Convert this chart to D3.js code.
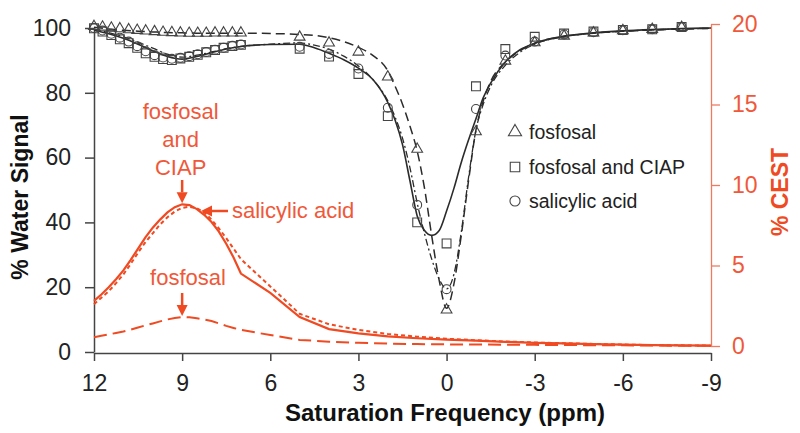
<!DOCTYPE html>
<html>
<head>
<meta charset="utf-8">
<script src="https://cdnjs.cloudflare.com/ajax/libs/d3/7.8.5/d3.min.js"></script>
<style>
  body { margin: 0; background: #fff; }
  text { font-family: "Liberation Sans", Arial, sans-serif; }
</style>
</head>
<body>
<div class="chart_box"></div>
<script>
// ---- data ----
// measured points: x in ppm
const lowPpm = [12, 11.71, 11.41, 11.12, 10.82, 10.53, 10.24, 9.94, 9.65, 9.35, 9.06, 8.76, 8.47, 8.18, 7.88, 7.59, 7.29, 7.0];
const highPpm = [5, 4, 3, 2, 1, 0, -1, -2, -3, -4, -5, -6, -7, -8];
const pointPpm = lowPpm.concat(highPpm);

const fosfosalPts = [100.5, 100.3, 100, 99.8, 99.5, 99.3, 99.1, 98.9, 98.7, 98.6, 98.5, 98.4, 98.4, 98.4, 98.5, 98.5, 98.5, 98.5,
  97.2, 95.4, 92.6, 84.9, 62.6, 13, 68, 89.8, 95.5, 97.5, 98.5, 99.2, 99.6, 100.2];
const ciapPts = [99.9, 98.9, 97.8, 96.5, 95.3, 93.9, 92.2, 91.1, 90.4, 90.1, 90.6, 91.1, 91.7, 92.5, 93.2, 93.9, 94.4, 94.8,
  93.6, 91.2, 85.8, 72.8, 40, 33.5, 82, 93.5, 97.3, 98.3, 98.9, 99.4, 99.6, 100.3];
const salicylicPts = [100, 99.2, 98.2, 97, 95.8, 94.4, 92.8, 91.6, 90.9, 90.5, 90.8, 91.3, 91.9, 92.6, 93.3, 93.9, 94.5, 94.9,
  94.2, 92, 87.5, 75.4, 45.4, 19.4, 75, 91.5, 95.8, 98, 98.7, 99.3, 99.6, 100.3];

// fitted Z-spectra
const fitPpm = [12, 11.5, 11, 10.5, 10, 9.5, 9, 8.5, 8, 7.5, 7, 6, 5, 4.5, 4, 3.5, 3, 2.5, 2, 1.75, 1.5, 1.25, 1, 0.75, 0.5, 0.25, 0,
  -0.25, -0.5, -0.75, -1, -1.25, -1.5, -2, -2.5, -3, -4, -5, -6, -7, -8, -9];
const fosfosalFit = [100.2, 99.7, 99.3, 99, 98.8, 98.6, 98.5, 98.4, 98.4, 98.4, 98.4, 98.3, 98.0, 97.7, 97.0, 95.8, 94.0, 91.5, 86.8, 82, 76.5, 69.8, 62, 50.5, 35.5, 22, 13.5,
  21, 36, 53, 68.5, 77.5, 83.5, 89.5, 93, 95.3, 97.4, 98.4, 99, 99.4, 99.7, 99.9];
const ciapFit = [99.3, 98.2, 96.8, 95.0, 93.0, 91.2, 90.4, 91.2, 92.4, 93.5, 94.3, 94.9, 95.0, 93.9, 92.2, 90.2, 87.6, 84, 77, 71.5, 64, 53, 42, 37.5, 36, 37.5, 43.5,
  50.5, 58.5, 65.5, 72, 78.5, 83, 89.5, 93.3, 95.3, 97.5, 98.5, 99.1, 99.5, 99.8, 100];
const salicylicFit = [99.7, 98.6, 97.3, 95.6, 93.8, 91.9, 91.0, 91.6, 92.6, 93.6, 94.3, 95.0, 95.4, 94.7, 93.5, 91.3, 88.3, 84, 77.5, 72.5, 66, 57, 46, 36.5, 28.5, 22.5, 19.5,
  24, 37, 54, 68.5, 76.5, 82, 88.5, 92.5, 95, 97.3, 98.4, 99, 99.4, 99.7, 99.9];

// CEST (right axis)
const cestPpm = [12, 11.75, 11.5, 11.25, 11, 10.75, 10.5, 10.25, 10, 9.75, 9.5, 9.25, 9, 8.75, 8.5, 8.25, 8, 7.75, 7.5, 7.25, 7,
  6, 5, 4, 3, 2, 1, 0, -1, -2, -3, -4, -5, -6, -7, -8, -9];
const cestCiap = [2.8, 3.2, 3.65, 4.15, 4.7, 5.35, 6.05, 6.75, 7.35, 7.85, 8.3, 8.62, 8.8, 8.75, 8.5, 8.15, 7.7, 7.1, 6.35, 5.5, 4.5,
  3.3, 1.8, 1.05, 0.78, 0.6, 0.48, 0.4, 0.33, 0.26, 0.2, 0.16, 0.12, 0.09, 0.06, 0.04, 0.02];
const cestSalicylic = [2.6, 3.0, 3.4, 3.9, 4.45, 5.1, 5.8, 6.45, 7.0, 7.55, 8.0, 8.35, 8.58, 8.65, 8.55, 8.3, 7.85, 7.3, 6.7, 6.05, 5.4,
  3.7, 2.0, 1.35, 1.0, 0.75, 0.58, 0.45, 0.36, 0.28, 0.22, 0.17, 0.13, 0.09, 0.06, 0.04, 0.02];
const cestFosfosal = [0.55, 0.63, 0.72, 0.81, 0.9, 1.02, 1.15, 1.28, 1.4, 1.53, 1.65, 1.74, 1.8, 1.78, 1.72, 1.64, 1.55, 1.4, 1.25, 1.12, 1.0,
  0.68, 0.38, 0.27, 0.2, 0.15, 0.12, 0.1, 0.09, 0.08, 0.07, 0.06, 0.05, 0.04, 0.03, 0.02, 0.02];

const xTicks = [12, 9, 6, 3, 0, -3, -6, -9];
const yLeftTicks = [0, 20, 40, 60, 80, 100];
const yRightTicks = [0, 5, 10, 15, 20];

const red = "#ef4a22";
const redText = "#f0583a";
const ink = "#2b2b2b";

// Set up the SVG canvas
const svg = d3
  .select(".chart_box")
  .append("svg")
  .attr("width", 800)
  .attr("height", 433);

// scales
const x = d3.scaleLinear().domain([12, -9]).range([94, 711]);
const yL = d3.scaleLinear().domain([0, 100]).range([352, 28]);
const yR = d3.scaleLinear().domain([0, 20]).range([346, 24]);

// axes (plain hyphen minus signs like the original)
const fmt = (d) => String(d);

const leftAxis = svg
  .append("g")
  .attr("transform", "translate(94, 0)")
  .call(d3.axisLeft(yL).tickValues(yLeftTicks).tickFormat(fmt).tickSize(9).tickSizeOuter(0).tickPadding(14));
leftAxis.selectAll("path, line").attr("stroke", "#444").attr("stroke-width", 1.5);
leftAxis.selectAll("text").attr("font-size", 23).attr("fill", "#222")
  .style("font-family", "Liberation Sans, Arial, sans-serif");

const bottomAxis = svg
  .append("g")
  .attr("transform", "translate(0, 353)")
  .call(d3.axisBottom(x).tickValues(xTicks).tickFormat(fmt).tickSize(8).tickSizeOuter(0).tickPadding(14));
bottomAxis.selectAll("path, line").attr("stroke", "#444").attr("stroke-width", 1.5);
bottomAxis.selectAll("text").attr("font-size", 23).attr("fill", "#222")
  .style("font-family", "Liberation Sans, Arial, sans-serif");

const rightAxis = svg
  .append("g")
  .attr("transform", "translate(711, 0)")
  .call(d3.axisRight(yR).tickValues(yRightTicks).tickFormat(fmt).tickSize(9).tickSizeOuter(0).tickPadding(12));
rightAxis.selectAll("path, line").attr("stroke", "#f07a60").attr("stroke-width", 1.3);
rightAxis.selectAll("text").attr("font-size", 23).attr("fill", redText)
  .style("font-family", "Liberation Sans, Arial, sans-serif");

// axis titles
svg.append("text")
  .attr("transform", "translate(28, 197) rotate(-90)")
  .attr("text-anchor", "middle")
  .attr("font-size", 23)
  .attr("font-weight", "bold")
  .attr("fill", "#111")
  .text("% Water Signal");

svg.append("text")
  .attr("x", 445)
  .attr("y", 421)
  .attr("text-anchor", "middle")
  .attr("font-size", 24)
  .attr("font-weight", "bold")
  .attr("fill", "#111")
  .text("Saturation Frequency (ppm)");

svg.append("text")
  .attr("transform", "translate(788, 192) rotate(-90)")
  .attr("text-anchor", "middle")
  .attr("font-size", 23)
  .attr("font-weight", "bold")
  .attr("fill", red)
  .text("% CEST");

// line generators
const zLine = (vals) =>
  d3.line()
    .x((d, i) => x(fitPpm[i]))
    .y((d) => yL(d))
    .curve(d3.curveMonotoneX)(vals);

const cLine = (vals) =>
  d3.line()
    .x((d, i) => x(cestPpm[i]))
    .y((d) => yR(d))(vals);

// CEST curves
svg.append("path").attr("d", cLine(cestFosfosal))
  .attr("fill", "none").attr("stroke", red).attr("stroke-width", 2).attr("stroke-dasharray", "13,6");
svg.append("path").attr("d", cLine(cestSalicylic))
  .attr("fill", "none").attr("stroke", red).attr("stroke-width", 2).attr("stroke-dasharray", "4,3");
svg.append("path").attr("d", cLine(cestCiap))
  .attr("fill", "none").attr("stroke", red).attr("stroke-width", 2.2);

// Z-spectrum fits
svg.append("path").attr("d", zLine(fosfosalFit))
  .attr("fill", "none").attr("stroke", ink).attr("stroke-width", 1.5).attr("stroke-dasharray", "9,5");
svg.append("path").attr("d", zLine(salicylicFit))
  .attr("fill", "none").attr("stroke", ink).attr("stroke-width", 1.3).attr("stroke-dasharray", "7,3,2,3");
svg.append("path").attr("d", zLine(ciapFit))
  .attr("fill", "none").attr("stroke", ink).attr("stroke-width", 1.6);

// measured points
const triangle = d3.symbol().type(d3.symbolTriangle).size(50);
const square = d3.symbol().type(d3.symbolSquare).size(78);
const circle = d3.symbol().type(d3.symbolCircle).size(62);

function addPoints(vals, sym) {
  svg.append("g")
    .selectAll("path")
    .data(vals)
    .enter()
    .append("path")
    .attr("d", sym)
    .attr("transform", (d, i) => `translate(${x(pointPpm[i])}, ${yL(d)})`)
    .attr("fill", "none")
    .attr("stroke", "#444")
    .attr("stroke-width", 1.1);
}
addPoints(fosfosalPts, triangle);
addPoints(ciapPts, square);
addPoints(salicylicPts, circle);

// legend
const legendItems = [
  { label: "fosfosal", sym: d3.symbol().type(d3.symbolTriangle).size(75), y: 132 },
  { label: "fosfosal and CIAP", sym: d3.symbol().type(d3.symbolSquare).size(90), y: 167 },
  { label: "salicylic acid", sym: d3.symbol().type(d3.symbolCircle).size(80), y: 201 },
];
legendItems.forEach((d) => {
  svg.append("path")
    .attr("d", d.sym)
    .attr("transform", `translate(515, ${d.y})`)
    .attr("fill", "none").attr("stroke", "#444").attr("stroke-width", 1.1);
  svg.append("text")
    .attr("x", 529)
    .attr("y", d.y + 7)
    .attr("font-size", 19.5)
    .attr("fill", "#222")
    .text(d.label);
});

// annotations
function arrow(x1, y1, x2, y2) {
  const ang = Math.atan2(y2 - y1, x2 - x1);
  const len = 11, half = 5.5;
  const bx = x2 - len * Math.cos(ang), by = y2 - len * Math.sin(ang);
  svg.append("line")
    .attr("x1", x1).attr("y1", y1).attr("x2", bx).attr("y2", by)
    .attr("stroke", red).attr("stroke-width", 2.5);
  const p = [
    [x2, y2],
    [bx + half * Math.sin(ang), by - half * Math.cos(ang)],
    [bx - half * Math.sin(ang), by + half * Math.cos(ang)],
  ];
  svg.append("path").attr("d", "M" + p.join("L") + "Z").attr("fill", red);
}

const annFont = 22;
["fosfosal", "and", "CIAP"].forEach((t, i) => {
  svg.append("text")
    .attr("x", x(9.05))
    .attr("y", 119 + i * 28)
    .attr("text-anchor", "middle")
    .attr("font-size", annFont)
    .attr("fill", redText)
    .text(t);
});
arrow(x(9.0), 180, x(9.0), yR(8.8) - 1);

svg.append("text")
  .attr("x", 232)
  .attr("y", 218)
  .attr("font-size", annFont)
  .attr("fill", redText)
  .text("salicylic acid");
arrow(228, 211, 201, 211);

svg.append("text")
  .attr("x", 188)
  .attr("y", 285)
  .attr("text-anchor", "middle")
  .attr("font-size", annFont)
  .attr("fill", redText)
  .text("fosfosal");
arrow(x(9.0), 293, x(9.0), yR(1.8) - 1);
</script>
</body>
</html>
